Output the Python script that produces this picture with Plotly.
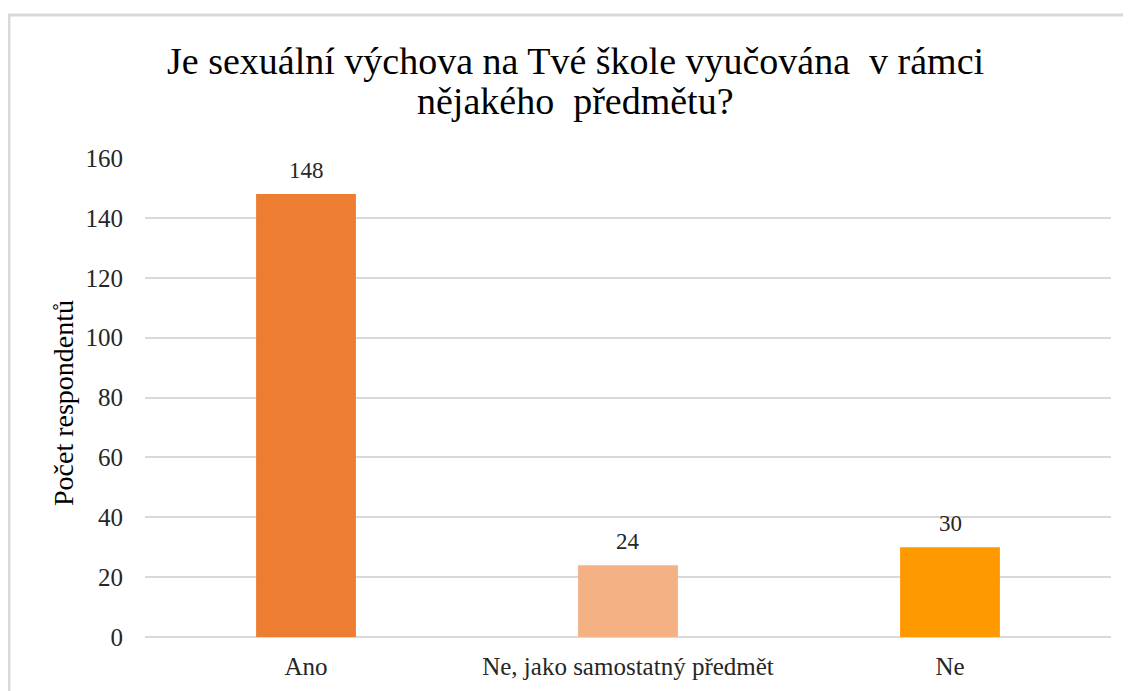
import plotly.graph_objects as go

categories = ["Ano", "Ne, jako samostatný předmět", "Ne"]
values = [148, 24, 30]
colors = ["#ED7D31", "#F4B183", "#FF9900"]
y_ticks = [0, 20, 40, 60, 80, 100, 120, 140, 160]

title_line1 = "Je sexuální výchova na Tvé škole vyučována  v rámci"
title_line2 = "nějakého  předmětu?"
y_title = "Počet respondentů"

FONT = "'Liberation Serif', 'Times New Roman', Tinos, serif"

W, H = 1131, 691
OFF = 8  # page body margin offset
L, R, T, B = 137, 28, 150, 62
pw = W - L - R
ph = H - T - B


def sx(px):
    """screen x pixel -> paper x"""
    return (px - OFF - L) / pw


def sy(py):
    """screen y pixel -> paper y"""
    return (H - B - (py - OFF)) / ph


fig = go.Figure()
fig.add_trace(go.Bar(
    x=categories, y=values,
    marker=dict(color=colors, line=dict(width=0)),
    width=0.31,
    hoverinfo="x+y",
))

annotations = [
    dict(text=title_line1, x=sx(575), y=sy(61), xref="paper", yref="paper",
         xanchor="center", yanchor="middle", showarrow=False,
         font=dict(family=FONT, size=38, color="#000000")),
    dict(text=title_line2, x=sx(575), y=sy(101), xref="paper", yref="paper",
         xanchor="center", yanchor="middle", showarrow=False,
         font=dict(family=FONT, size=38, color="#000000")),
    dict(text=y_title, x=sx(63), y=sy(403), xref="paper", yref="paper",
         xanchor="center", yanchor="middle", textangle=-90, showarrow=False,
         font=dict(family=FONT, size=28, color="#000000")),
]
for c, v in zip(categories, values):
    annotations.append(dict(
        text=str(v), x=c, y=v, xref="x", yref="y",
        xanchor="center", yanchor="bottom", yshift=9, showarrow=False,
        font=dict(family=FONT, size=23, color="#262626"),
    ))

fig.update_layout(
    width=W, height=H,
    margin=dict(l=L, r=R, t=T, b=B),
    paper_bgcolor="white", plot_bgcolor="white",
    showlegend=False,
    font=dict(family=FONT, color="#262626"),
    xaxis=dict(
        showgrid=False, showline=False, zeroline=False,
        tickfont=dict(family=FONT, size=25, color="#262626"),
        ticks="", ticklen=0, ticklabelstandoff=12,
    ),
    yaxis=dict(
        range=[0, 160], tickvals=y_ticks,
        showgrid=True, gridcolor="#D9D9D9", gridwidth=2,
        zeroline=True, zerolinecolor="#D9D9D9", zerolinewidth=2,
        showline=False,
        tickfont=dict(family=FONT, size=25, color="#262626"),
        ticks="", ticklabelstandoff=21,
    ),
    annotations=annotations,
    shapes=[dict(
        type="rect", xref="paper", yref="paper",
        x0=sx(9), x1=sx(W + 30),
        y0=sy(H + 30), y1=sy(15),
        line=dict(color="#D9D9D9", width=3), fillcolor="rgba(0,0,0,0)",
        layer="below",
    )],
)

fig.write_html("out.html")
